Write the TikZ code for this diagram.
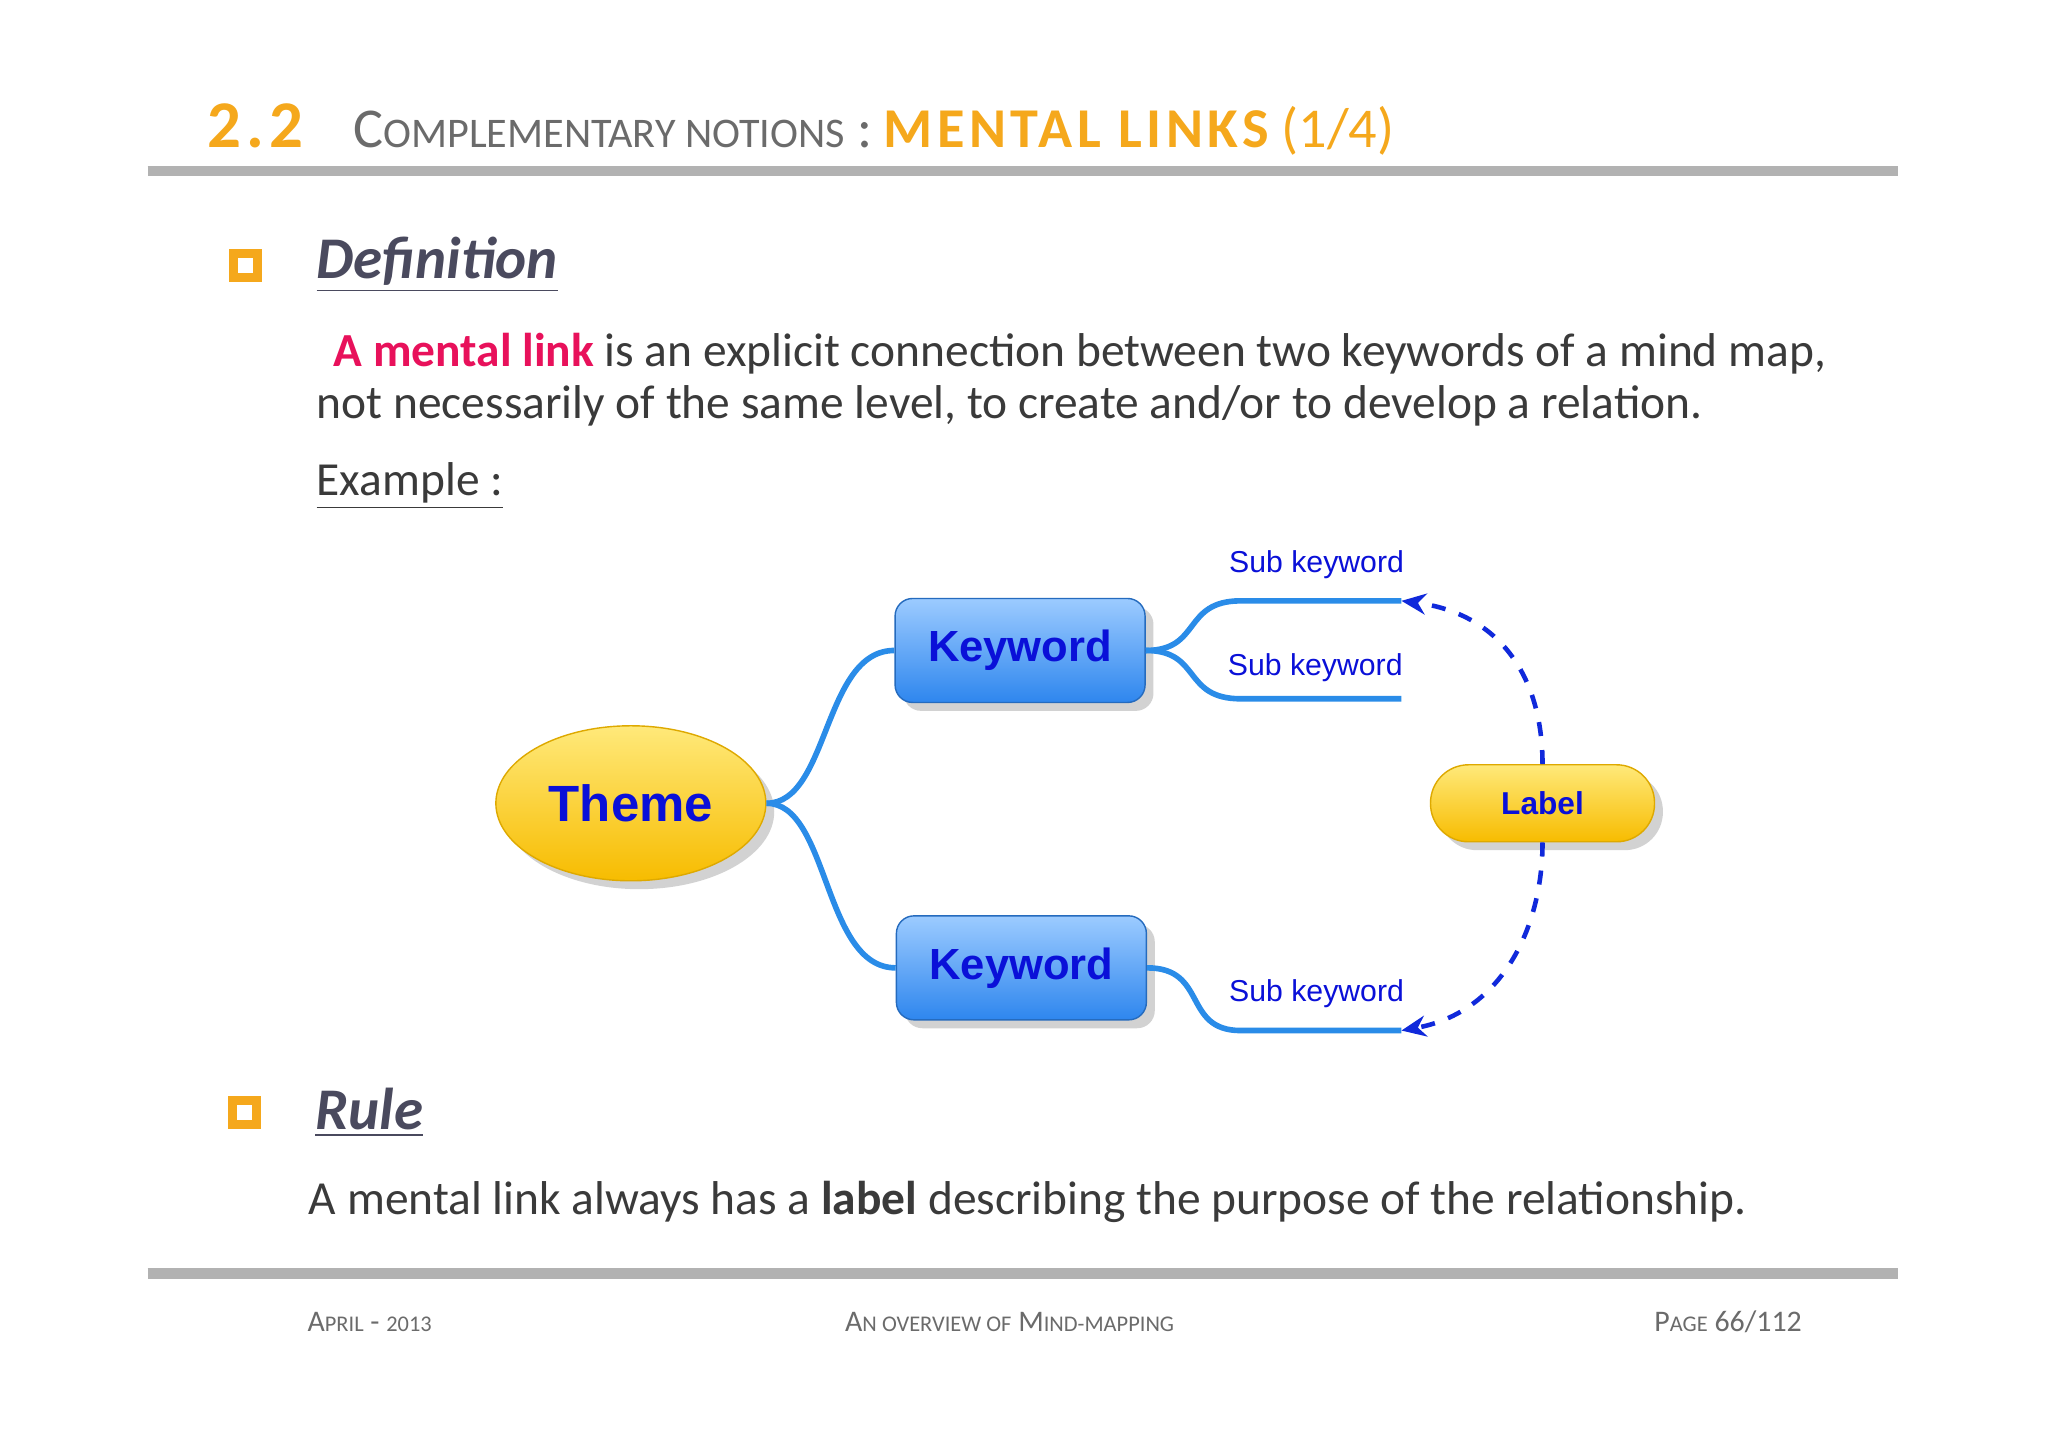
\documentclass[tikz,border=0pt]{standalone}
\usepackage{fontspec}
\setmainfont{Carlito}
\newfontfamily\diag{Liberation Sans}
\newfontfamily\spaced[LetterSpace=8]{Carlito}
\usetikzlibrary{arrows.meta,shapes.geometric,shadows}
\newcommand{\fsc}[1]{{\fontsize{0.75\dimexpr\csname f@size\endcsname pt\relax}{1}\selectfont #1}}
\definecolor{orng}{HTML}{F5A81C}
\definecolor{hdgray}{HTML}{6B6B6B}
\definecolor{ttl}{HTML}{4A4A5E}
\definecolor{txt}{HTML}{3A3A3A}
\definecolor{pink}{HTML}{E8115B}
\definecolor{lnk}{HTML}{2A8CE8}
\definecolor{kwtop}{HTML}{9CCBFF}
\definecolor{kwbot}{HTML}{2E86EE}
\definecolor{ytop}{HTML}{FFE97A}
\definecolor{ybot}{HTML}{F7BC00}
\definecolor{dblue}{HTML}{0A10D8}
\begin{document}
\begin{tikzpicture}[x=0.01306cm,y=-0.01306cm,
  rulebar/.style={line width=3pt,draw=black!30},
  bullet/.style={draw=orng,fill=white,line width=2.5pt,minimum size=0.24cm,inner sep=0},
  heading/.style={anchor=west,text=ttl,font=\fontsize{16.8}{20}\selectfont\bfseries\itshape},
  body/.style={anchor=west,text=txt,font=\fontsize{13.5}{16}\selectfont},
  kw/.style={rounded corners=5pt,top color=kwtop,bottom color=kwbot,draw=kwbot!80!black,
    minimum width=2.5cm,minimum height=1.04cm,text=dblue,font=\diag\bfseries\fontsize{12.4}{14}\selectfont,
    drop shadow={opacity=0.35}},
  theme/.style={ellipse,top color=ytop,bottom color=ybot,draw=ybot!90!black,minimum width=2.7cm,
    minimum height=1.55cm,text=dblue,font=\diag\bfseries\fontsize{14.5}{17}\selectfont,drop shadow={opacity=0.35}},
  lbl/.style={rounded corners=0.38cm,top color=ytop,bottom color=ybot,draw=ybot!90!black,minimum width=2.24cm,
    minimum height=0.77cm,text=dblue,font=\diag\bfseries\fontsize{9}{11}\selectfont,drop shadow={opacity=0.35}},
  sub/.style={text=dblue,font=\diag\fontsize{8.6}{10}\selectfont},
  conn/.style={draw=lnk,line width=1.6pt},
  mlink/.style={draw=dblue!80!lnk,line width=1.3pt,dash pattern=on 4pt off 4pt,-{Stealth[length=7pt,width=6pt]}},
  foot/.style={text=hdgray,font=\fontsize{8.5}{10}\selectfont}]
\useasboundingbox[fill=white] (0,0) rectangle (1568,1108);
% header
\node[anchor=base west,text=orng,font=\fontsize{19}{22}\selectfont\bfseries,inner sep=0] (num) at (158,113) {\spaced 2.2};
\node[anchor=base west,text=hdgray,font=\fontsize{16}{20}\selectfont,inner sep=0] (hd) at (270,113) {C\fsc{OMPLEMENTARY NOTIONS} :};
\node[anchor=base west,text=orng,font=\fontsize{16}{20}\selectfont,inner sep=0] (hd2) at (hd.base east) {\,{\spaced\bfseries MENTAL LINKS} (1/4)};
\draw[rulebar] (113,131) -- (1453,131);
% definition
\node[bullet] (b1) at (188,203) {};
\node[heading] (def) at (233,203) {\underline{Definition}};
\node[body] (l1) at (240,271) {\,\textcolor{pink}{\bfseries A mental link} is an explicit connection between two keywords of a mind map,};
\node[body] (l2) at (233,311) {not necessarily of the same level, to create and/or to develop a relation.};
\node[body] (ex) at (233,372) {\underline{Example :}};
% diagram
\node[theme] (th) at (483,615) {Theme};
\node[kw] (k1) at (781,498) {Keyword};
\node[kw] (k2) at (782,741) {Keyword};
\node[lbl] (lb) at (1181,615) {Label};
\coordinate (s1a) at (950,460); \coordinate (s1b) at (1073,460);
\coordinate (s2a) at (950,535); \coordinate (s2b) at (1073,535);
\coordinate (s3a) at (950,789); \coordinate (s3b) at (1073,789);
\node[sub] (t1) at (1008,432) {Sub keyword};
\node[sub] (t2) at (1007,511) {Sub keyword};
\node[sub] (t3) at (1008,761) {Sub keyword};
\draw[conn] (th.east) .. controls (635,615) and (630,498) .. (k1.west);
\draw[conn] (th.east) .. controls (635,615) and (630,741) .. (k2.west);
\draw[conn] (k1.east) .. controls (920,498) and (905,460) .. (s1a) -- (s1b);
\draw[conn] (k1.east) .. controls (920,498) and (905,535) .. (s2a) -- (s2b);
\draw[conn] (k2.east) .. controls (925,741) and (905,789) .. (s3a) -- (s3b);
\draw[mlink] (lb.north) .. controls (1181,520) and (1150,470) .. (s1b);
\draw[mlink] (lb.south) .. controls (1181,710) and (1150,775) .. (s3b);
% rule
\node[bullet] (b2) at (187,852) {};
\node[heading] (rl) at (232,852) {\underline{Rule}};
\node[body] (r1) at (227,920) {A mental link always has a \textbf{label} describing the purpose of the relationship.};
\draw[rulebar] (113,975) -- (1453,975);
% footer
\node[foot,anchor=west] (f1) at (226,1012) {A\fsc{PRIL} - \fsc{2013}};
\node[foot] (f2) at (773,1012) {A\fsc{N OVERVIEW OF} M\fsc{IND-MAPPING}};
\node[foot,anchor=east] (f3) at (1389,1012) {P\fsc{AGE} 66/112};
\end{tikzpicture}
\end{document}
